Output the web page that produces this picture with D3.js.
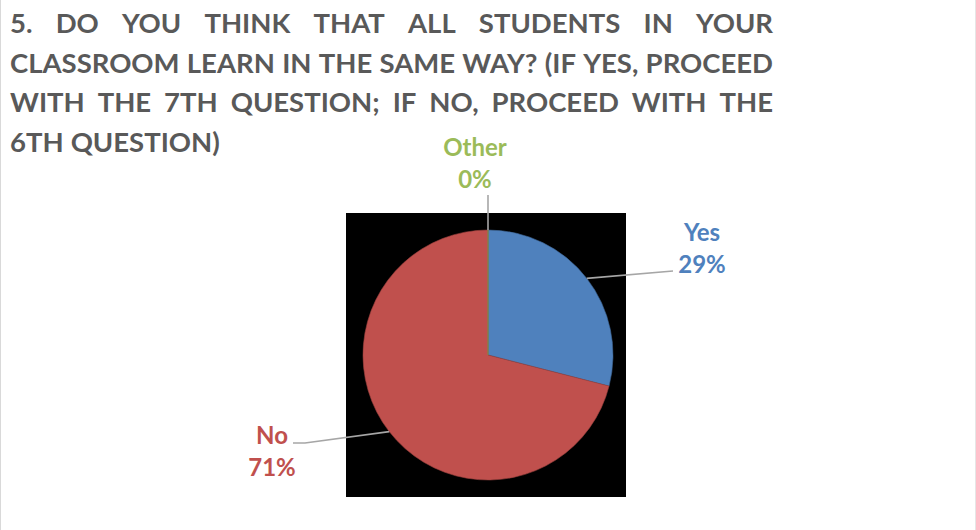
<!DOCTYPE html>
<html>
<head>
<meta charset="utf-8">
<script src="https://cdn.jsdelivr.net/npm/d3@7"></script>
<style>
  html, body { margin: 0; padding: 0; background: #fff; }
  svg { display: block; }
</style>
</head>
<body>
<svg id="chart" width="976" height="530"></svg>
<script>
// Survey answers for question 5
const categories = ["Yes", "No", "Other"];
const values = [29, 71, 0];
const colors = ["#4F81BD", "#C0504D", "#9BBB59"];
const titleLines = [
  "5. DO YOU THINK THAT ALL STUDENTS IN YOUR",
  "CLASSROOM LEARN IN THE SAME WAY? (IF YES, PROCEED",
  "WITH THE 7TH QUESTION; IF NO, PROCEED WITH THE",
  "6TH QUESTION)"
];

const svg = d3.select("#chart");
const W = 976, H = 530;

// frame edges
svg.append("line").attr("x1", 0.5).attr("x2", 0.5).attr("y1", 0).attr("y2", H)
  .attr("stroke", "#d9d9d9").attr("stroke-width", 1);
svg.append("line").attr("x1", 975.5).attr("x2", 975.5).attr("y1", 0).attr("y2", H)
  .attr("stroke", "#e6e6e6").attr("stroke-width", 1);

// Title, justified across the text box (last line left aligned)
const font = "Lato, 'Open Sans', sans-serif";
const left = 10, right = 773, lineH = 39.5, firstBase = 33;
const title = svg.append("g")
  .attr("font-family", font).attr("font-weight", 700)
  .attr("font-size", 27.5).attr("fill", "#595959");
titleLines.forEach((line, i) => {
  const y = firstBase + i * lineH;
  const words = line.split(" ");
  const nodes = words.map(w => title.append("text").attr("y", y).text(w));
  const widths = nodes.map(n => n.node().getComputedTextLength());
  const total = d3.sum(widths);
  const last = i === titleLines.length - 1;
  const gap = last ? 7 : (right - left - total) / (words.length - 1);
  let x = left;
  nodes.forEach((n, j) => { n.attr("x", x); x += widths[j] + gap; });
});

// Plot area background
svg.append("rect").attr("x", 346).attr("y", 213).attr("width", 280).attr("height", 284)
  .attr("fill", "#000");

const cx = 488, cy = 355, r = 125;
const pie = d3.pie().sort(null).value(d => d.value).startAngle(0).endAngle(2 * Math.PI);
const data = categories.map((c, i) => ({ name: c, value: values[i], color: colors[i] }));
const arcs = pie(data);
const arc = d3.arc().innerRadius(0).outerRadius(r);

const g = svg.append("g").attr("transform", `translate(${cx},${cy})`);
g.selectAll("path").data(arcs).join("path")
  .attr("d", arc)
  .attr("fill", d => d.data.color)
  .attr("stroke", d => d3.color(d.data.color).darker(0.6))
  .attr("stroke-width", 0.6);

const total = d3.sum(values);
// label anchor (text center x, first line baseline) and leader end point, per category
const labelPlace = {
  Yes:   { x: 702, y: 241, end: [[673, 271]] },
  No:    { x: 272, y: 444, end: [[305, 443], [293, 443]] },
  Other: { x: 475, y: 156, end: [[0, 195]] }
};

arcs.forEach(a => {
  const mid = (a.startAngle + a.endAngle) / 2;
  const p0 = [cx + r * Math.sin(mid), cy - r * Math.cos(mid)];
  const lp = labelPlace[a.data.name];
  const pts = [p0].concat(lp.end.map(e => a.data.name === "Other" ? [p0[0], e[1]] : e));
  svg.append("path")
    .attr("d", d3.line()(pts))
    .attr("fill", "none").attr("stroke", "#a6a6a6").attr("stroke-width", 1.6);
  const t = svg.append("text")
    .attr("x", lp.x).attr("y", lp.y)
    .attr("text-anchor", "middle")
    .attr("font-family", font).attr("font-weight", 700).attr("font-size", 24)
    .attr("fill", a.data.color);
  t.append("tspan").attr("x", lp.x).text(a.data.name);
  t.append("tspan").attr("x", lp.x).attr("dy", 32)
    .text(Math.round(a.data.value / total * 100) + "%");
});
</script>
</body>
</html>
